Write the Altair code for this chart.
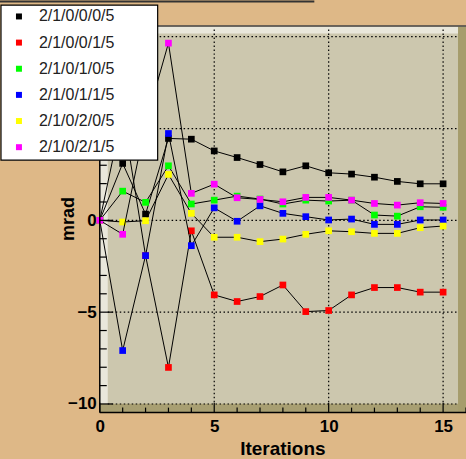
import altair as alt
import pandas as pd

iterations = list(range(16))
names = ["2/1/0/0/0/5", "2/1/0/0/1/5", "2/1/0/1/0/5", "2/1/0/1/1/5", "2/1/0/2/0/5", "2/1/0/2/1/5"]
colors = ["#000000", "#ff0000", "#00ff00", "#0000ff", "#ffff00", "#ff00ff"]

s_000 = [0, 3.10, 0.34, 4.46, 4.42, 3.78, 3.42, 3.04, 2.64, 2.97, 2.59, 2.52, 2.35, 2.12, 1.99, 1.99]
s_001 = [0, 5.84, -1.92, -8.01, -0.57, -4.06, -4.42, -4.15, -3.52, -4.97, -4.91, -4.06, -3.66, -3.66, -3.91, -3.91]
s_010 = [0, 1.59, 0.98, 2.97, 0.89, 1.10, 1.32, 1.16, 0.89, 1.10, 1.05, 1.10, 0.29, 0.23, 0.74, 0.71]
s_011 = [0, -7.09, -1.92, 4.73, -1.38, 0.68, -0.05, 0.79, 0.38, 0.20, 0.02, 0.07, -0.22, -0.22, 0.02, 0.02]
s_020 = [0, -0.09, -0.02, 2.50, 0.38, -0.92, -0.92, -1.16, -1.02, -0.76, -0.57, -0.62, -0.71, -0.71, -0.40, -0.31]
s_021 = [0, -0.76, 5.27, 9.65, 1.47, 1.97, 1.23, 1.14, 1.01, 1.25, 1.25, 1.10, 0.92, 0.83, 0.96, 0.92]
series_values = [s_000, s_001, s_010, s_011, s_020, s_021]

x_major = [0, 5, 10, 15]
x_minor = [v for v in range(1, 17) if v % 5 != 0]
y_major = [-10, -5, 0, 5, 10]
y_labels = [-10, -5, 0]
y_minor = [v for v in range(-10, 11) if v % 5 != 0]
x_grid = [5, 10, 15]
y_grid = [-10, -5, 0, 5, 10]

rows = []
for n, vals in zip(names, series_values):
    for i, v in zip(iterations, vals):
        rows.append({"series": n, "x": i, "y": v})
df = pd.DataFrame(rows)
legend_df = pd.DataFrame({"series": names, "li": list(range(len(names)))})

W, H = 367, 387
X = alt.Scale(domain=[0, 16], nice=False, zero=False)
Y = alt.Scale(domain=[-10.47, 10.56], nice=False, zero=False)
LY = alt.Scale(domain=[0, 5], range=[-10, 121], nice=False, zero=False)
C = alt.Scale(domain=names, range=colors)
FONT = "Liberation Sans"

xaxis = alt.Axis(values=x_major, domain=False, ticks=False, grid=False, labelFont=FONT,
                 labelFontWeight="bold", labelFontSize=17, labelColor="black",
                 labelPadding=6, labelFlush=False, title=None)
yaxis = alt.Axis(values=y_labels, domain=False, ticks=False, grid=False, labelFont=FONT,
                 labelFontWeight="bold", labelFontSize=17, labelColor="black",
                 labelPadding=3.5, labelFlush=False, title=None)


def XE(field="x"):
    return alt.X(f"{field}:Q", scale=X, axis=xaxis)


one = pd.DataFrame({"k": [0]})


def prect(x, x2, y, y2, color, **kw):
    return alt.Chart(one).mark_rect(color=color, **kw).encode(
        x=alt.value(x), x2=alt.value(x2), y=alt.value(y), y2=alt.value(y2))


def prule(x, x2, y, y2, color="black", width=1.0):
    return alt.Chart(one).mark_rule(color=color, strokeWidth=width).encode(
        x=alt.value(x), x2=alt.value(x2), y=alt.value(y), y2=alt.value(y2))


layers = []
# frame (3D style)
layers.append(prect(0, W, 0, H, "#ccc7ae"))
layers.append(prect(0, W, 0, 7, "#e9e7db"))
layers.append(prect(0, 8, 0, H, "#e9e7db"))
layers.append(prect(0, W, 378, H, "#a89f72"))
layers.append(prect(359, W, 0, H, "#a69d6c"))
layers.append(prule(0, W, -0.5, -0.5, "#444444", 1.6))

# grid
layers.append(alt.Chart(pd.DataFrame({"y": y_grid})).mark_rule(
    color="black", strokeDash=[1.5, 2.5], strokeWidth=1.2).encode(
    y=alt.Y("y:Q", scale=Y, axis=None), x=alt.value(8), x2=alt.value(359)))
layers.append(alt.Chart(pd.DataFrame({"x": x_grid})).mark_rule(
    color="black", strokeDash=[1.5, 2.5], strokeWidth=1.2).encode(
    x=XE(), y=alt.value(3), y2=alt.value(378)))

# data series: black connecting lines, coloured square markers
for k, n in enumerate(names):
    base = alt.Chart(df).transform_filter(alt.datum.series == n)
    layers.append(base.mark_line(color="black", strokeWidth=1).encode(
        x=XE(),
        y=alt.Y("y:Q", scale=Y, axis=yaxis if k == 0 else None)))
    layers.append(base.mark_point(shape="square", filled=True, size=45, opacity=1, strokeWidth=0).encode(
        x=XE(),
        y=alt.Y("y:Q", scale=Y, axis=None),
        color=alt.Color("series:N", scale=C, legend=None)))

# axes lines and inner ticks
layers.append(prule(0, 0, 0, H, "black", 1.5))
layers.append(prule(0, W, H, H, "black", 1.5))
layers.append(alt.Chart(pd.DataFrame({"x": x_major})).mark_rule(color="black", strokeWidth=1.2).encode(
    x=XE(), y=alt.value(H), y2=alt.value(H - 10)))
layers.append(alt.Chart(pd.DataFrame({"x": x_minor})).mark_rule(color="black", strokeWidth=1.2).encode(
    x=XE(), y=alt.value(H), y2=alt.value(H - 5)))
layers.append(alt.Chart(pd.DataFrame({"y": y_major})).mark_rule(color="black", strokeWidth=1.2).encode(
    y=alt.Y("y:Q", scale=Y, axis=None), x=alt.value(0), x2=alt.value(13)))
layers.append(alt.Chart(pd.DataFrame({"y": y_minor})).mark_rule(color="black", strokeWidth=1.2).encode(
    y=alt.Y("y:Q", scale=Y, axis=None), x=alt.value(0), x2=alt.value(7)))

# axis titles
layers.append(alt.Chart(one).mark_text(text="Iterations", font=FONT, fontWeight="bold", fontSize=19,
                                       align="center", baseline="alphabetic", color="black").encode(
    x=alt.value(183.5), y=alt.value(429)))
layers.append(alt.Chart(one).mark_text(text="mrad", font=FONT, fontWeight="bold", fontSize=18, angle=270,
                                       align="center", baseline="alphabetic", color="black").encode(
    x=alt.value(-26), y=alt.value(193)))

# title box remnant at top
layers.append(prule(-100, 215, -25, -25, "#333333", 2))

# legend
layers.append(prect(-99, 58, -21.3, 134, "white", stroke="black", strokeWidth=1.2))
layers.append(alt.Chart(legend_df).mark_point(shape="square", filled=True, size=36, opacity=1, strokeWidth=0).encode(
    x=alt.value(-81), y=alt.Y("li:Q", scale=LY, axis=None),
    color=alt.Color("series:N", scale=C, legend=None)))
layers.append(alt.Chart(legend_df).mark_text(align="left", baseline="middle", font=FONT, fontSize=16,
                                             color="#222222").encode(
    x=alt.value(-61), y=alt.Y("li:Q", scale=LY, axis=None), text="series:N"))

chart = alt.layer(*layers).resolve_scale(y="independent").properties(
    width=W, height=H,
    autosize=alt.AutoSizeParams(type="none"),
    padding={"left": 100, "top": 26, "right": 0, "bottom": 46},
    background="#deb887",
).configure_view(stroke=None)

chart.save("out.html", embed_options={"renderer": "svg", "actions": False})
